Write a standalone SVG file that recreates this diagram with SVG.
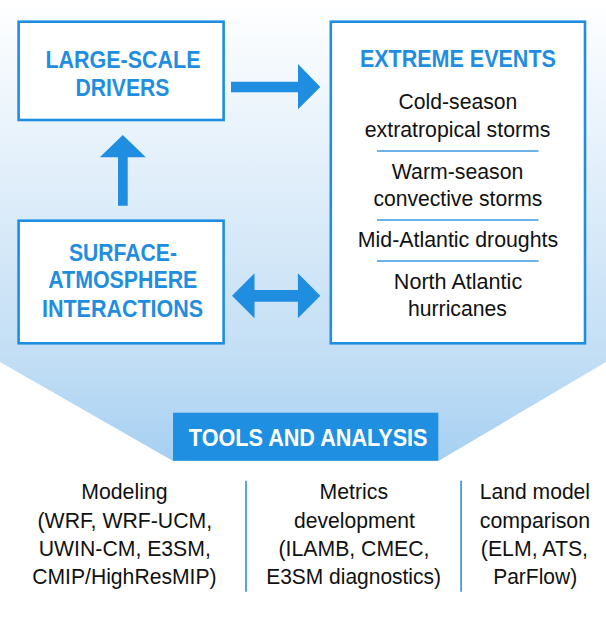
<svg xmlns="http://www.w3.org/2000/svg" width="606" height="618" viewBox="0 0 606 618">
<defs>
<linearGradient id="bg" x1="0" y1="0" x2="0" y2="461" gradientUnits="userSpaceOnUse">
<stop offset="0" stop-color="#ffffff"/>
<stop offset="0.78" stop-color="#c2def5"/>
<stop offset="1" stop-color="#a6d0f2"/>
</linearGradient>
<style>
.box{fill:#ffffff;stroke:#1f8de0;stroke-width:2.6}
.head{font-family:"Liberation Sans",Arial,sans-serif;font-weight:bold;font-size:23.5px;fill:#1f8de0;text-anchor:middle}
.body{font-family:"Liberation Sans",Arial,sans-serif;font-size:22px;fill:#111111;text-anchor:middle}
.arrow{fill:#1f8de0}
.sep{stroke:#3a9ae3;stroke-width:1.6}
.div{stroke:#2a8fe0;stroke-width:1.6}
</style>
</defs>
<path d="M0 0 H606 V362 L438.3 461 H173 L0 362 Z" fill="url(#bg)"/>

<g id="large-scale-drivers">
<rect class="box" x="18.6" y="21.7" width="205" height="98.3"/>
<text class="head" x="123" y="67.8" textLength="155" lengthAdjust="spacingAndGlyphs">LARGE-SCALE</text>
<text class="head" x="122.4" y="95.5" textLength="94" lengthAdjust="spacingAndGlyphs">DRIVERS</text>
</g>

<g id="surface-atmosphere">
<rect class="box" x="18.6" y="220.7" width="205" height="122.6"/>
<text class="head" x="123" y="260.7" textLength="108" lengthAdjust="spacingAndGlyphs">SURFACE-</text>
<text class="head" x="122.8" y="288.3" textLength="149" lengthAdjust="spacingAndGlyphs">ATMOSPHERE</text>
<text class="head" x="122.5" y="317.3" textLength="161" lengthAdjust="spacingAndGlyphs">INTERACTIONS</text>
</g>

<g id="extreme-events">
<rect class="box" x="330.8" y="21.7" width="254.2" height="321.6"/>
<text class="head" x="457.9" y="66.7" textLength="196" lengthAdjust="spacingAndGlyphs">EXTREME EVENTS</text>
<text class="body" x="457.9" y="109" textLength="118.7" lengthAdjust="spacingAndGlyphs">Cold-season</text>
<text class="body" x="457.6" y="136.5" textLength="185.7" lengthAdjust="spacingAndGlyphs">extratropical storms</text>
<line class="sep" x1="377" y1="151" x2="538.5" y2="151"/>
<text class="body" x="457.6" y="178.8" textLength="131.5" lengthAdjust="spacingAndGlyphs">Warm-season</text>
<text class="body" x="457.9" y="206.3" textLength="169" lengthAdjust="spacingAndGlyphs">convective storms</text>
<line class="sep" x1="377" y1="220" x2="538.5" y2="220"/>
<text class="body" x="458" y="247" textLength="200.4" lengthAdjust="spacingAndGlyphs">Mid-Atlantic droughts</text>
<line class="sep" x1="377" y1="261" x2="538.5" y2="261"/>
<text class="body" x="458" y="288.6" textLength="128.4" lengthAdjust="spacingAndGlyphs">North Atlantic</text>
<text class="body" x="457.4" y="316.3" textLength="98.8" lengthAdjust="spacingAndGlyphs">hurricanes</text>
</g>

<g id="tools-and-analysis">
<rect x="173" y="412.7" width="265.3" height="48" fill="#1f8fe1"/>
<text x="308.2" y="446" font-family="'Liberation Sans',Arial,sans-serif" font-weight="bold" font-size="23.5" fill="#ffffff" text-anchor="middle" textLength="238.7" lengthAdjust="spacingAndGlyphs">TOOLS AND ANALYSIS</text>
</g>

<g id="modeling">
<text class="body" x="124.4" y="499.3" textLength="86.3" lengthAdjust="spacingAndGlyphs">Modeling</text>
<text class="body" x="124.8" y="527.7" textLength="174.5" lengthAdjust="spacingAndGlyphs">(WRF, WRF-UCM,</text>
<text class="body" x="124.8" y="556" textLength="172.1" lengthAdjust="spacingAndGlyphs">UWIN-CM, E3SM,</text>
<text class="body" x="124.4" y="583.7" textLength="184.5" lengthAdjust="spacingAndGlyphs">CMIP/HighResMIP)</text>
</g>

<g id="metrics-development">
<text class="body" x="353.8" y="499.3" textLength="68.5" lengthAdjust="spacingAndGlyphs">Metrics</text>
<text class="body" x="354.4" y="527.7" textLength="120.7" lengthAdjust="spacingAndGlyphs">development</text>
<text class="body" x="354" y="556" textLength="150.9" lengthAdjust="spacingAndGlyphs">(ILAMB, CMEC,</text>
<text class="body" x="353.6" y="583.7" textLength="174.8" lengthAdjust="spacingAndGlyphs">E3SM diagnostics)</text>
</g>

<g id="land-model-comparison">
<text class="body" x="534.9" y="499.3" textLength="110.3" lengthAdjust="spacingAndGlyphs">Land model</text>
<text class="body" x="534.9" y="527.7" textLength="110.3" lengthAdjust="spacingAndGlyphs">comparison</text>
<text class="body" x="534.4" y="556" textLength="107.2" lengthAdjust="spacingAndGlyphs">(ELM, ATS,</text>
<text class="body" x="535.2" y="583.7" textLength="84" lengthAdjust="spacingAndGlyphs">ParFlow)</text>
</g>

<g id="connectors">
<path class="arrow" d="M231 81.7 H298 V64 L320.3 87 L298 109.3 V92.3 H231 Z"/>
<path class="arrow" d="M118 205.7 V157.3 H99.8 L122.8 135 L145.8 157.3 H127.7 V205.7 Z"/>
<path class="arrow" d="M232 295.8 L254.5 273.3 V290 H297.9 V273.3 L320.3 295.8 L297.9 318.3 V301.7 H254.5 V318.3 Z"/>
<line class="div" x1="246" y1="480.7" x2="246" y2="591.7"/>
<line class="div" x1="461.1" y1="480.7" x2="461.1" y2="591.7"/>
</g>
</svg>
